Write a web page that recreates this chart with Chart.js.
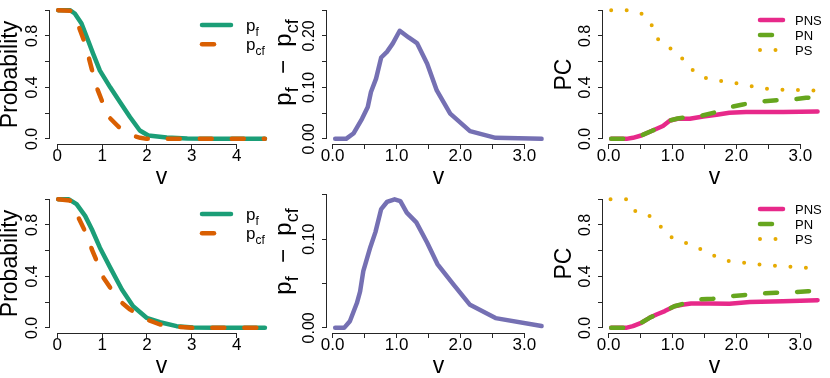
<!DOCTYPE html>
<html><head><meta charset="utf-8">
<script src="https://cdn.jsdelivr.net/npm/chart.js@4.4.1/dist/chart.umd.min.js"></script>
<style>
html,body{margin:0;padding:0;background:#fff;}
#wrap{position:relative;width:830px;height:378px;overflow:hidden;background:#fff;}
canvas{position:absolute;}
</style></head><body>
<div id="wrap">
<canvas id="p1" width="277" height="189" style="left:0px;top:0px"></canvas>
<canvas id="p2" width="276" height="189" style="left:277px;top:0px"></canvas>
<canvas id="p3" width="277" height="189" style="left:553px;top:0px"></canvas>
<canvas id="p4" width="277" height="189" style="left:0px;top:189px"></canvas>
<canvas id="p5" width="276" height="189" style="left:277px;top:189px"></canvas>
<canvas id="p6" width="277" height="189" style="left:553px;top:189px"></canvas>
</div>
<script>
// ---------------- DATA ----------------
// Top row, left: probabilities
const vPfTop  = [0.02, 0.28, 0.39, 0.54, 0.67, 0.80, 0.95, 1.18, 1.40, 1.62, 1.84, 2.03, 2.44, 2.90, 3.50, 4.00, 4.63];
const pfTop   = [1.00, 1.00, 0.974, 0.896, 0.78, 0.66, 0.53, 0.40, 0.285, 0.17, 0.065, 0.026, 0.010, 0.003, 0.0, 0.0, 0.0];
const vPcfTop = [0.02, 0.30, 0.47, 0.62, 0.77, 0.90, 0.99, 1.12, 1.36, 1.50, 1.66, 1.85, 1.99, 2.50, 3.00, 3.50, 4.00, 4.63];
const pcfTop  = [1.00, 0.995, 0.88, 0.74, 0.54, 0.38, 0.30, 0.18, 0.096, 0.055, 0.026, 0.008, 0.0, 0.0, 0.0, 0.0, 0.0, 0.0];
// Top row, middle: difference
const vDiffTop = [0.04, 0.21, 0.33, 0.46, 0.55, 0.60, 0.68, 0.76, 0.85, 0.94, 1.05, 1.19, 1.32, 1.48, 1.63, 1.84, 2.15, 2.55, 3.27];
const diffTop  = [0.0, 0.0, 0.011, 0.039, 0.062, 0.091, 0.117, 0.158, 0.169, 0.185, 0.210, 0.197, 0.186, 0.146, 0.094, 0.049, 0.015, 0.002, 0.0];
// Top row, right: PC
const vPnsTop = [0.04, 0.28, 0.38, 0.51, 0.69, 0.85, 0.96, 1.08, 1.27, 1.48, 1.69, 1.89, 2.15, 2.73, 3.27];
const pnsTop  = [0.0, 0.0, 0.008, 0.026, 0.065, 0.10, 0.143, 0.156, 0.156, 0.174, 0.187, 0.203, 0.208, 0.208, 0.213];
const vPnTop  = [0.04, 0.28, 0.38, 0.51, 0.69, 0.85, 0.96, 1.08, 1.20, 1.42, 1.66, 1.84, 2.10, 2.37, 2.63, 2.89, 3.09, 3.27];
const pnTop   = [0.0, 0.0, 0.008, 0.026, 0.065, 0.10, 0.143, 0.158, 0.166, 0.176, 0.205, 0.24, 0.267, 0.29, 0.30, 0.306, 0.319, 0.323];
const vPsTop  = [0.04, 0.28, 0.50, 0.66, 0.76, 0.95, 1.14, 1.30, 1.51, 1.74, 1.99, 2.23, 2.48, 2.72, 2.97, 3.27];
const psTop   = [1.0, 1.0, 0.98, 0.90, 0.78, 0.71, 0.63, 0.54, 0.475, 0.452, 0.433, 0.41, 0.39, 0.382, 0.379, 0.375];
// Bottom row, left
const vPfBot  = [0.02, 0.25, 0.43, 0.62, 0.77, 0.95, 1.18, 1.44, 1.69, 1.99, 2.29, 2.66, 3.03, 3.50, 4.00, 4.63];
const pfBot   = [1.0, 1.0, 0.961, 0.87, 0.766, 0.623, 0.468, 0.298, 0.168, 0.078, 0.044, 0.013, 0.003, 0.0, 0.0, 0.0];
const vPcfBot = [0.02, 0.28, 0.47, 0.67, 0.77, 0.88, 1.03, 1.18, 1.40, 1.62, 1.99, 2.29, 2.66, 3.03, 3.50, 4.00, 4.63];
const pcfBot  = [1.0, 0.99, 0.857, 0.714, 0.61, 0.519, 0.39, 0.312, 0.207, 0.143, 0.065, 0.026, 0.008, 0.0, 0.0, 0.0, 0.0];
// Bottom row, middle
const vDiffBot = [0.04, 0.18, 0.27, 0.38, 0.43, 0.48, 0.59, 0.67, 0.76, 0.85, 0.97, 1.06, 1.16, 1.31, 1.48, 1.64, 1.89, 2.15, 2.55, 3.27];
const diffBot  = [0.0, 0.0, 0.0075, 0.028, 0.041, 0.064, 0.091, 0.108, 0.134, 0.142, 0.145, 0.143, 0.130, 0.119, 0.096, 0.072, 0.049, 0.026, 0.011, 0.002];
// Bottom row, right
const vPnsBot = [0.04, 0.27, 0.38, 0.51, 0.64, 0.75, 0.88, 1.03, 1.15, 1.29, 1.58, 1.89, 2.21, 2.73, 3.27];
const pnsBot  = [0.0, 0.0, 0.013, 0.039, 0.078, 0.104, 0.13, 0.168, 0.18, 0.19, 0.19, 0.187, 0.20, 0.207, 0.215];
const vPnBot  = [0.04, 0.27, 0.38, 0.51, 0.64, 0.75, 0.88, 1.03, 1.15, 1.29, 1.40, 1.63, 1.89, 2.10, 2.39, 2.62, 2.89, 3.12, 3.27];
const pnBot   = [0.0, 0.0, 0.013, 0.039, 0.078, 0.104, 0.13, 0.168, 0.185, 0.205, 0.22, 0.226, 0.246, 0.254, 0.267, 0.273, 0.277, 0.285, 0.288];
const vPsBot  = [0.03, 0.29, 0.42, 0.60, 0.78, 0.94, 1.16, 1.39, 1.61, 1.83, 2.08, 2.32, 2.56, 2.81, 3.07, 3.27];
const psBot   = [1.0, 1.0, 0.906, 0.886, 0.808, 0.712, 0.67, 0.623, 0.569, 0.522, 0.509, 0.493, 0.483, 0.475, 0.468, 0.465];

// Ticks
const vTicksWide      = [0, 1, 2, 3, 4];
const vTickLabelsWide = ['0', '1', '2', '3', '4'];
const vTicks          = [0, 0.5, 1, 1.5, 2, 2.5, 3];
const vTickLabels     = ['0.0', '', '1.0', '', '2.0', '', '3.0'];
const probTicks       = [0, 0.2, 0.4, 0.6, 0.8, 1.0];
const probTickLabels  = ['0.0', '', '0.4', '', '0.8', ''];
const diffTicksTop      = [0, 0.05, 0.10, 0.15, 0.20, 0.25];
const diffTickLabelsTop = ['0.00', '', '0.10', '', '0.20', ''];
const diffTicksBot      = [0, 0.05, 0.10, 0.15];
const diffTickLabelsBot = ['0.00', '', '0.10', ''];

// Text
const xTitle     = [['v', 0]];
const probTitle  = [['Probability', 0]];
const diffTitle  = [['p', 0], ['f', 1], ['  \u2212  ', 0], ['p', 0], ['cf', 1]];
const pcTitle    = [['PC', 0]];
const probLegend = [[['p', 0], ['f', 1]], [['p', 0], ['cf', 1]]];
const pcLegend   = [[['PNS', 0]], [['PN', 0]], [['PS', 0]]];

// ---------------- STYLE ----------------
const FONT = "'Liberation Sans', Arial, Helvetica, sans-serif";
const C = {green:'#1B9E77', orange:'#D95F02', purple:'#7570B3', pink:'#E7298A', lime:'#66A61E', gold:'#E6AB02'};
const AX = '#262626';
const LW = 4.5;
const DASH = [12, 20];
const DOT = [0, 15.5];
const TICKLEN = 5;
const XTICK_SIZE = 17, YTICK_SIZE = 16, TITLE_SIZE = 23;
const YLAB_DIST = 17;

const mctx = document.createElement('canvas').getContext('2d');
function widest(labels, size){ mctx.font = `${size}px ${FONT}`; return Math.max(...labels.map(l => mctx.measureText(l).width)); }

function segsWidth(ctx, segs, size, subScale){
  let w = 0;
  for (const [t, sub] of segs){ ctx.font = `${sub ? size*subScale : size}px ${FONT}`; w += ctx.measureText(t).width; }
  return w;
}
function drawSegs(ctx, segs, size, x0, y0, subScale){
  let x = x0;
  for (const [t, sub] of segs){
    const fs = sub ? size*subScale : size;
    ctx.font = `${fs}px ${FONT}`;
    ctx.fillText(t, x, y0 + (sub ? size*0.28 : 0));
    x += ctx.measureText(t).width;
  }
}

const rDecor = {
  id: 'rDecor',
  afterDraw(chart){
    const cfg = chart.config.options.rcfg;
    const {ctx, chartArea: ca, scales: {x, y}} = chart;
    ctx.save();
    ctx.strokeStyle = AX; ctx.lineWidth = 1; ctx.lineCap = 'butt';
    const xb = Math.round(ca.bottom) + 0.5;
    ctx.beginPath();
    ctx.moveTo(x.getPixelForValue(cfg.xTicks[0]), xb);
    ctx.lineTo(x.getPixelForValue(cfg.xTicks[cfg.xTicks.length-1]), xb);
    ctx.stroke();
    const yl = Math.round(ca.left) - 0.5;
    ctx.beginPath();
    ctx.moveTo(yl, y.getPixelForValue(cfg.yTicks[0]));
    ctx.lineTo(yl, y.getPixelForValue(cfg.yTicks[cfg.yTicks.length-1]));
    ctx.stroke();
    // titles
    ctx.fillStyle = '#000';
    ctx.textBaseline = 'alphabetic';
    const xc = (ca.left + ca.right)/2;
    const wx = segsWidth(ctx, xTitle, TITLE_SIZE, 0.7);
    drawSegs(ctx, xTitle, TITLE_SIZE, xc - wx/2, 183.5, 0.7);
    const yc = (ca.top + ca.bottom)/2 + (cfg.yTitleShift || 0);
    ctx.save();
    ctx.translate(cfg.yTitleX, yc);
    ctx.rotate(-Math.PI/2);
    const wy = segsWidth(ctx, cfg.yTitle, cfg.yTitleSize, 0.75);
    drawSegs(ctx, cfg.yTitle, cfg.yTitleSize, -wy/2, 0, 0.75);
    ctx.restore();
    // legend
    const lg = cfg.legend;
    lg.items.forEach((it, i) => {
      const yy = lg.y0 + i*lg.dy;
      ctx.save();
      ctx.strokeStyle = it.color; ctx.lineWidth = it.width; ctx.lineCap = 'round';
      ctx.setLineDash(it.dash || []);
      ctx.beginPath(); ctx.moveTo(lg.x1, yy); ctx.lineTo(lg.x2, yy); ctx.stroke();
      ctx.restore();
      ctx.fillStyle = '#000';
      drawSegs(ctx, it.segs, lg.size, lg.tx, yy + lg.size*0.36, 0.7);
    });
    ctx.restore();
  }
};

function ds(xs, ys, color, dash, order, width){
  return { data: xs.map((v, i) => ({x: v, y: ys[i]})), borderColor: color, borderWidth: width || LW,
    borderDash: dash || [], borderCapStyle: 'round', borderJoinStyle: 'round',
    pointRadius: 0, tension: 0, fill: false, order: order, spanGaps: true };
}

function panel(id, cfg){
  const ypad = YLAB_DIST - TICKLEN - widest(cfg.yLabels.filter(s => s), YTICK_SIZE)/2;
  new Chart(document.getElementById(id), {
    type: 'line',
    data: { datasets: cfg.series },
    options: {
      responsive: false, animation: false, events: [],
      layout: { padding: { left: 0, right: cfg.padR, top: 5, bottom: 0 } },
      plugins: { legend: { display: false }, tooltip: { enabled: false } },
      rcfg: cfg,
      scales: {
        x: {
          type: 'linear', min: cfg.xmin, max: cfg.xmax,
          afterBuildTicks: s => { s.ticks = cfg.xTicks.map(v => ({value: v})); },
          afterFit: s => { s.height = 45; s.paddingLeft = 0; s.paddingRight = 0; },
          grid: { drawOnChartArea: false, drawTicks: true, tickLength: TICKLEN, color: AX, lineWidth: 1 },
          border: { display: false },
          ticks: { autoSkip: false, minRotation: 0, maxRotation: 0, padding: -2.5, color: '#000',
                   font: { family: FONT, size: XTICK_SIZE }, callback: (v, i) => cfg.xLabels[i] }
        },
        y: {
          type: 'linear', min: cfg.ymin, max: cfg.ymax,
          afterBuildTicks: s => { s.ticks = cfg.yTicks.map(v => ({value: v})); },
          afterFit: s => { s.width = 50; s.paddingTop = 0; s.paddingBottom = 0; },
          grid: { drawOnChartArea: false, drawTicks: true, tickLength: TICKLEN, color: AX, lineWidth: 1 },
          border: { display: false },
          ticks: { autoSkip: false, minRotation: 90, maxRotation: 90, crossAlign: 'center', padding: ypad, color: '#000',
                   font: { family: FONT, size: YTICK_SIZE }, callback: (v, i) => cfg.yLabels[i] }
        }
      }
    },
    plugins: [rDecor]
  });
}

const probLegendCfg = (items) => ({ x1: 202, x2: 231, tx: 246, y0: 25, dy: 19.3, size: 17, items });
const pcLegendCfg = (items) => ({ x1: 207, x2: 230, tx: 242, y0: 20, dy: 15, size: 13, items });

function probPanel(id, vf, pf, vcf, pcf){
  panel(id, {
    padR: 4, xmin: -0.163, xmax: 4.81, ymin: -0.04, ymax: 1.04,
    xTicks: vTicksWide, xLabels: vTickLabelsWide, yTicks: probTicks, yLabels: probTickLabels,
    yTitle: probTitle, yTitleSize: TITLE_SIZE, yTitleX: 17,
    series: [ds(vf, pf, C.green, null, 2), ds(vcf, pcf, C.orange, DASH, 1)],
    legend: probLegendCfg([
      { segs: probLegend[0], color: C.green, width: LW },
      { segs: probLegend[1], color: C.orange, width: LW, dash: DASH }
    ])
  });
}
function diffPanel(id, vd, d, ymin, ymax, yt, yl){
  panel(id, {
    padR: 3, xmin: -0.088, xmax: 3.402, ymin, ymax,
    xTicks: vTicks, xLabels: vTickLabels, yTicks: yt, yLabels: yl,
    yTitle: diffTitle, yTitleSize: 24, yTitleX: 14, yTitleShift: -12,
    series: [ds(vd, d, C.purple, null, 1)],
    legend: { x1: 0, x2: 0, tx: 0, y0: 0, dy: 0, size: 10, items: [] }
  });
}
function pcPanel(id, vns, pns, vn, pn, vs, ps){
  panel(id, {
    padR: 4, xmin: -0.088, xmax: 3.402, ymin: -0.04, ymax: 1.04,
    xTicks: vTicks, xLabels: vTickLabels, yTicks: probTicks, yLabels: probTickLabels,
    yTitle: pcTitle, yTitleSize: TITLE_SIZE, yTitleX: 18,
    series: [ds(vs, ps, C.gold, DOT, 3, 4), ds(vns, pns, C.pink, null, 2), ds(vn, pn, C.lime, DASH, 1)],
    legend: pcLegendCfg([
      { segs: pcLegend[0], color: C.pink, width: LW },
      { segs: pcLegend[1], color: C.lime, width: LW, dash: DASH },
      { segs: pcLegend[2], color: C.gold, width: 4, dash: DOT }
    ])
  });
}

probPanel('p1', vPfTop, pfTop, vPcfTop, pcfTop);
diffPanel('p2', vDiffTop, diffTop, -0.01, 0.26, diffTicksTop, diffTickLabelsTop);
pcPanel('p3', vPnsTop, pnsTop, vPnTop, pnTop, vPsTop, psTop);
probPanel('p4', vPfBot, pfBot, vPcfBot, pcfBot);
diffPanel('p5', vDiffBot, diffBot, -0.0058, 0.151, diffTicksBot, diffTickLabelsBot);
pcPanel('p6', vPnsBot, pnsBot, vPnBot, pnBot, vPsBot, psBot);
</script>
</body></html>
